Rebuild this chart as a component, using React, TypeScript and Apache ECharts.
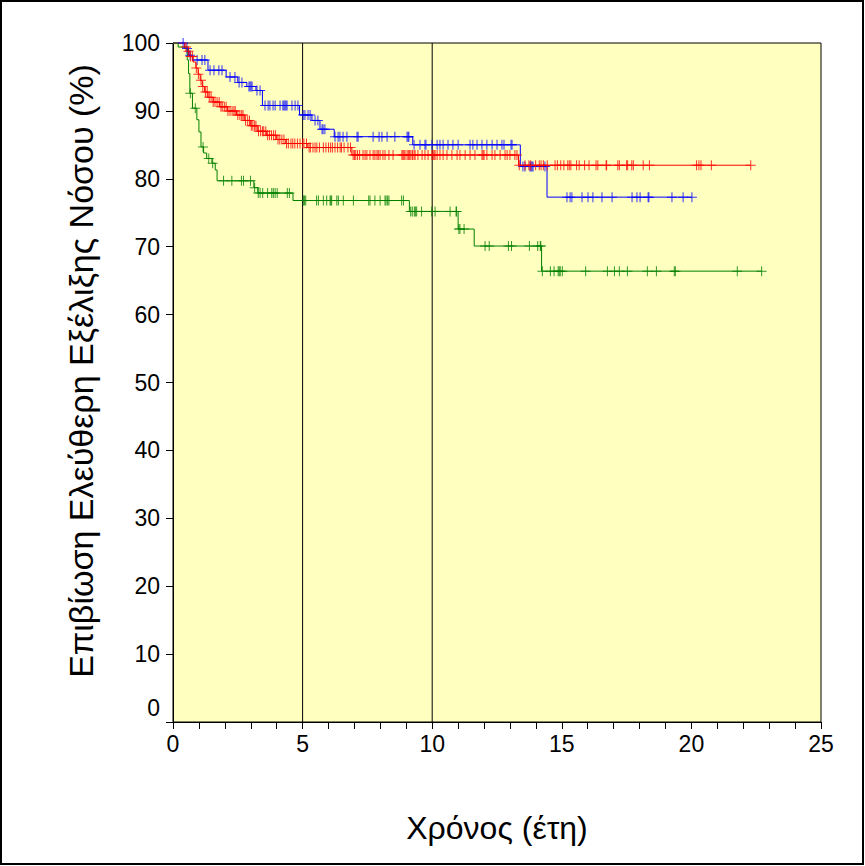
import React, { useEffect, useRef } from "react";
import * as echarts from "echarts";

// ---- Data (years, survival %) ----
const blueTimes = [0, 0.45, 0.6, 0.75, 1.35, 2.05, 2.5, 2.85, 3.2, 3.45, 4.88, 5.36, 5.67, 6.22, 9.25, 13.4, 14.43];
const blueSurvival = [100, 99.2, 98.2, 97.5, 96.0, 95.0, 94.2, 93.6, 93.0, 90.8, 89.4, 88.6, 87.3, 86.2, 85.0, 81.8, 77.3];
const blueEnd = 20.02;
const blueCensored = [
  0.39, 0.54, 0.66, 0.93, 1.12, 1.23, 1.43, 1.58, 1.77, 1.89, 2.2, 2.39, 2.55, 2.66, 2.93, 2.97, 3.01, 3.05, 3.24, 3.36,
  3.55, 3.67, 3.74, 3.86, 3.94, 4.13, 4.24, 4.28, 4.32, 4.36, 4.4, 4.59, 4.71, 4.82, 5.02, 5.09, 5.21, 5.29, 5.48, 5.59,
  5.75, 5.79, 5.86, 6.25, 6.37, 6.44, 6.56, 6.71, 7.1, 7.14, 7.72, 7.95, 8.06, 8.26, 8.56, 9.03, 9.07, 9.1, 9.3, 9.53,
  9.72, 9.76, 9.99, 10.19, 10.3, 10.42, 10.61, 10.8, 11.0, 11.46, 11.57, 11.73, 11.92, 12.11, 12.31, 12.5, 12.69, 12.77,
  13.04, 13.08, 13.5, 13.58, 13.77, 13.81, 13.85, 13.89, 14.35, 15.2, 15.32, 15.39, 15.78, 16.01, 16.2, 16.55, 16.94,
  17.71, 17.9, 18.02, 18.33, 18.36, 19.25, 19.68, 20.02,
];

const redTimes = [0, 0.45, 0.55, 0.65, 0.78, 0.88, 0.97, 1.05, 1.13, 1.22, 1.35, 1.55, 1.8, 2.1, 2.45, 2.75, 3.0, 3.25, 3.6, 4.0, 4.35, 5.2, 6.9, 13.33];
const redSurvival = [100, 99.4, 98.8, 98.0, 97.2, 96.3, 95.4, 94.5, 93.6, 92.8, 92.0, 91.3, 90.6, 90.0, 89.4, 88.6, 87.8, 87.0, 86.4, 85.8, 85.2, 84.6, 83.5, 82.0];
const redEnd = 22.29;
const redCensored = [
  0.5, 0.6, 0.68, 0.75, 0.9, 0.98, 1.08, 1.15, 1.25, 1.32, 1.4, 1.47, 1.55, 1.62, 1.7, 1.78, 1.85, 1.9, 1.98, 2.05,
  2.12, 2.2, 2.28, 2.35, 2.4, 2.5, 2.58, 2.65, 2.7, 2.8, 2.88, 2.95, 3.02, 3.08, 3.15, 3.2, 3.3, 3.38, 3.45, 3.5,
  3.58, 3.65, 3.72, 3.8, 3.88, 3.95, 4.05, 4.12, 4.2, 4.28, 4.38, 4.45, 4.55, 4.62, 4.7, 4.8, 4.9, 5.0, 5.05, 5.15,
  5.25, 5.3, 5.4, 5.48, 5.55, 5.65, 5.8, 5.9, 6.0, 6.08, 6.15, 6.25, 6.35, 6.45, 6.5, 6.6, 6.75, 6.85, 6.95, 7.0,
  7.05, 7.12, 7.2, 7.33, 7.41, 7.48, 7.6, 7.72, 7.79, 7.87, 7.92, 7.99, 8.1, 8.18, 8.33, 8.49, 8.83, 8.87, 8.91, 8.95,
  9.03, 9.08, 9.13, 9.18, 9.24, 9.3, 9.34, 9.45, 9.61, 9.72, 9.84, 9.99, 10.03, 10.07, 10.11, 10.19, 10.3, 10.42,
  10.57, 10.76, 10.96, 11.07, 11.27, 11.46, 11.65, 11.92, 11.96, 12.0, 12.11, 12.31, 12.42, 12.62, 12.81, 12.89, 13.0,
  13.19, 13.27, 13.36, 13.58, 13.73, 13.8, 13.99, 14.13, 14.2, 14.29, 14.44, 14.74, 14.83, 14.96, 15.08, 15.23, 15.29,
  15.35, 15.57, 15.67, 15.88, 16.05, 16.32, 16.39, 16.71, 16.73, 17.16, 17.22, 17.5, 17.54, 17.7, 17.76, 18.14, 18.38,
  20.2, 20.29, 20.37, 20.77, 22.29,
];

const greenTimes = [0, 0.2, 0.55, 0.6, 0.65, 0.75, 0.92, 1.0, 1.08, 1.18, 1.3, 1.5, 1.63, 1.7, 3.12, 3.27, 4.63, 9.12, 11.0, 11.62, 14.22];
const greenSurvival = [100, 99.4, 97.5, 95.5, 92.6, 90.4, 88.7, 86.9, 84.7, 83.8, 83.0, 82.3, 81.3, 79.7, 78.7, 77.9, 76.8, 75.2, 72.6, 70.1, 66.4];
const greenEnd = 22.71;
const greenCensored = [
  0.67, 0.86, 1.16, 1.38, 1.53, 1.95, 2.27, 2.64, 2.72, 2.99, 3.15, 3.29, 3.36, 3.46, 3.65, 3.81, 3.87, 3.94, 4.02,
  4.41, 4.49, 5.03, 5.07, 5.12, 5.54, 5.61, 5.8, 5.93, 6.06, 6.09, 6.12, 6.32, 6.38, 6.57, 6.96, 7.55, 7.6, 7.79, 7.99,
  8.18, 8.22, 8.28, 8.33, 8.82, 8.89, 9.17, 9.23, 9.31, 9.35, 9.4, 9.59, 9.98, 10.11, 10.69, 10.92, 10.94, 11.03,
  11.07, 11.23, 12.04, 12.2, 12.94, 13.06, 13.75, 14.07, 14.17, 14.19, 14.25, 14.56, 14.7, 14.86, 14.9, 14.94, 15.02,
  15.92, 16.76, 17.03, 17.22, 17.53, 18.3, 18.65, 19.34, 19.38, 21.77, 22.71,
];

const referenceYears = [5, 10];
const xTitle = "Χρόνος (έτη)";
const yTitle = "Επιβίωση Ελεύθερη Εξέλιξης Νόσου (%)";

const FONT = "'Liberation Sans', Arial, sans-serif";
const PLUS = "path://M4.5,0H5.5V10H4.5ZM0,4.5H10V5.5H0Z";

function stepData(times: number[], vals: number[], end: number) {
  const d = times.map((t, i) => [t, vals[i]]);
  d.push([end, vals[vals.length - 1]]);
  return d;
}
function survivalAt(times: number[], vals: number[], t: number) {
  let s = vals[0];
  for (let i = 0; i < times.length; i++) if (times[i] <= t) s = vals[i];
  return s;
}
function censorData(times: number[], vals: number[], cens: number[]) {
  return cens.map((t) => [t, survivalAt(times, vals, t)]);
}

const groups = [
  { name: "Ομάδα Α", color: "#0000FF", times: blueTimes, vals: blueSurvival, end: blueEnd, cens: blueCensored },
  { name: "Ομάδα Β", color: "#FF0000", times: redTimes, vals: redSurvival, end: redEnd, cens: redCensored },
  { name: "Ομάδα Γ", color: "#008000", times: greenTimes, vals: greenSurvival, end: greenEnd, cens: greenCensored },
];

export default function App() {
  const ref = useRef<HTMLDivElement>(null);
  useEffect(() => {
    if (!ref.current) return;
    const chart = echarts.init(ref.current, undefined, { renderer: "svg" });
    const series: any[] = [];
    referenceYears.forEach((yr) => {
      series.push({
        type: "line",
        data: [[yr, 0], [yr, 100]],
        symbol: "none",
        silent: true,
        lineStyle: { color: "#000", width: 1 },
        z: 1,
      });
    });
    groups.forEach((g) => {
      series.push({
        name: g.name,
        type: "line",
        step: "end",
        data: stepData(g.times, g.vals, g.end),
        symbol: "none",
        lineStyle: { color: g.color, width: 1 },
        z: 2,
      });
      series.push({
        name: g.name,
        type: "scatter",
        data: censorData(g.times, g.vals, g.cens),
        symbol: PLUS,
        symbolSize: 10,
        itemStyle: { color: g.color, borderWidth: 0 },
        clip: false,
        z: 3,
      });
    });
    chart.setOption({
      animation: false,
      backgroundColor: "#FFFFFF",
      grid: {
        left: 173,
        top: 43,
        width: 648,
        height: 679,
        show: true,
        backgroundColor: "#FFFFC0",
        borderColor: "#000",
        borderWidth: 1,
      },
      xAxis: {
        type: "value",
        min: 0,
        max: 25,
        interval: 5,
        axisLine: { show: true, lineStyle: { color: "#000", width: 1 } },
        axisTick: { show: true, length: 7, lineStyle: { color: "#000" } },
        minorTick: { show: true, splitNumber: 5, length: 7, lineStyle: { color: "#000" } },
        splitLine: { show: false },
        axisLabel: { color: "#000", fontSize: 23, fontFamily: FONT, margin: 10 },
      },
      yAxis: {
        type: "value",
        min: 0,
        max: 100,
        interval: 10,
        axisLine: { show: true, lineStyle: { color: "#000", width: 1 } },
        axisTick: { show: true, length: 7, lineStyle: { color: "#000" } },
        splitLine: { show: false },
        axisLabel: {
          color: "#000",
          fontSize: 23,
          fontFamily: FONT,
          margin: 13,
          formatter: (v: number) => (v === 0 ? "{zero|0}" : String(v)),
          rich: { zero: { fontSize: 23, fontFamily: FONT, color: "#000", padding: [0, 0, 28, 0] } },
        },
      },
      graphic: [
        {
          type: "rect",
          shape: { x: 1, y: 1, width: 862, height: 863 },
          style: { fill: "none", stroke: "#000", lineWidth: 2 },
          silent: true,
        },
        {
          type: "text",
          x: 497,
          y: 828,
          style: { text: xTitle, fontSize: 32, fontFamily: FONT, fill: "#000", align: "center", verticalAlign: "middle" },
        },
        {
          type: "text",
          x: 81,
          y: 371,
          rotation: Math.PI / 2,
          style: { text: yTitle, fontSize: 34, fontFamily: FONT, fill: "#000", align: "center", verticalAlign: "middle" },
        },
      ],
      series,
    });
    return () => chart.dispose();
  }, []);
  return (
    <div
      ref={ref}
      style={{ position: "fixed", left: 0, top: 0, width: 865, height: 866, background: "#fff" }}
    />
  );
}
